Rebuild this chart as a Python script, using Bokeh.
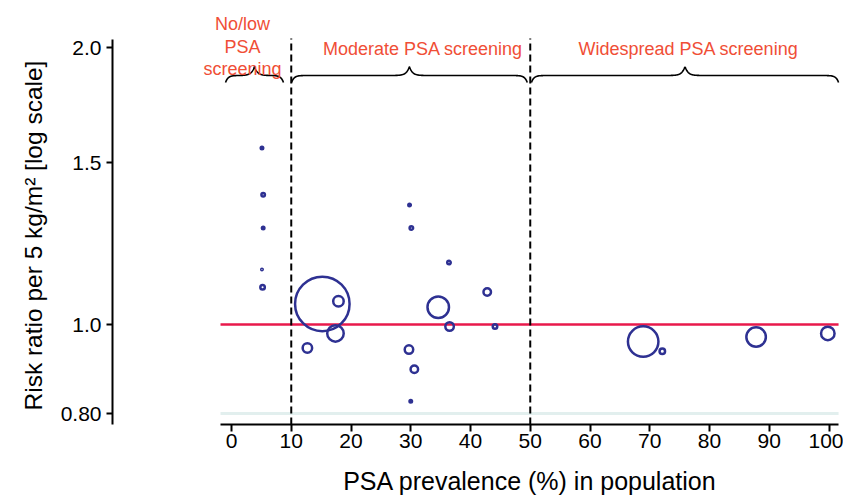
import math
import numpy as np
from bokeh.plotting import figure
from bokeh.models import Range1d, FixedTicker, CustomJSTickFormatter, Label, Title
from bokeh.embed import file_html
from bokeh.resources import INLINE

# ---------------- data ----------------
psa_prevalence = [5.1, 5.3, 5.3, 5.1, 5.2, 15.2, 17.9, 17.4, 12.7,
                  29.8, 30.1, 36.4, 42.8, 34.6, 36.5, 44.1, 29.7, 30.6, 30.0,
                  68.9, 72.1, 87.8, 99.8]
risk_ratio = [1.556, 1.384, 1.274, 1.148, 1.098, 1.053, 1.060, 0.978, 0.943,
              1.349, 1.274, 1.168, 1.085, 1.044, 0.995, 0.995, 0.939, 0.894, 0.825,
              0.958, 0.935, 0.969, 0.978]
study_weight = [2.5, 3.5, 2.5, 1.5, 4.5, 54.5, 10.5, 16.5, 9.5,
                2.5, 3.5, 3.5, 7.5, 21.5, 8.5, 4.5, 8.5, 7.5, 2.5,
                30.5, 5.5, 19.5, 13.5]

x_ticks = [0, 10, 20, 30, 40, 50, 60, 70, 80, 90, 100]
y_ticks = [0.8, 1.0, 1.5, 2.0]
y_tick_labels = ["0.80", "1.0", "1.5", "2.0"]

cutoffs = [10, 50]
region_starts = [-1.0, 10.05, 50.2]
region_ends = [8.7, 49.5, 101.6]
region_label_x = [32.05, 76.5]
region_labels = ["Moderate PSA screening", "Widespread PSA screening"]
low_label_x = 1.85
low_label_lines = ["No/low", "PSA", "screening"]

null_ratio = 1.0
floor_ratio = 0.8

x_title = "PSA prevalence (%) in population"
y_title = "Risk ratio per 5 kg/m\u00b2 [log scale]"

# ---------------- geometry / style ----------------
BLUE = "#2E3192"
RED = "#E8194B"
ORANGE = "#F04E36"
TEAL = "#E2EFEE"
FONT = "Liberation Sans"

W, H = 843, 498
FRAME_LEFT = 112
FRAME_BOTTOM = 424
PX_X = 5.975         # px per x unit
X_ORIGIN_PX = 231.0  # page px of x=0
Y_ONE_PX = 324.0     # page px of RR=1
PX_LN = 399.0        # px per ln-unit


def y_at(page_y):
    return math.exp((Y_ONE_PX - page_y) / PX_LN)


def x_at(page_x):
    return (page_x - X_ORIGIN_PX) / PX_X


X0 = x_at(FRAME_LEFT)
X1 = x_at(W)
Y_BOT = y_at(FRAME_BOTTOM)
Y_TOP = y_at(0)

p = figure(width=W, height=H, x_range=Range1d(X0, X1), y_range=Range1d(Y_BOT, Y_TOP),
           y_axis_type="log", output_backend="svg", toolbar_location=None,
           min_border_left=FRAME_LEFT, min_border_right=0, min_border_top=0,
           min_border_bottom=H - FRAME_BOTTOM)
p.outline_line_color = None
p.xgrid.visible = False
p.ygrid.visible = False
p.background_fill_color = "white"
p.border_fill_color = "white"

# horizontal reference lines
p.line([-1.84, 101.6], [floor_ratio, floor_ratio], line_color=TEAL, line_width=3)
p.line([-1.84, 101.6], [null_ratio, null_ratio], line_color=RED, line_width=2.5)

# dashed cut-off lines
p.segment(x0=cutoffs, y0=[Y_BOT] * len(cutoffs), x1=cutoffs, y1=[y_at(38)] * len(cutoffs),
          line_color="black", line_width=2, line_dash="7 4")


# braces
def brace(x0, x1):
    xs = np.linspace(x0, x1, 600)
    u = np.minimum(xs - x0, x1 - xs) * PX_X
    v = np.abs(xs - (x0 + x1) / 2) * PX_X
    ypx = 75 + 7 * np.exp(-u / 2.5) - 9 * np.exp(-v / 3.0)
    return xs, np.exp((Y_ONE_PX - ypx) / PX_LN)


for a, b in zip(region_starts, region_ends):
    bx, by = brace(a, b)
    p.line(bx, by, line_color="black", line_width=1.6)

# studies
p.scatter(psa_prevalence, risk_ratio, size=study_weight, marker="circle",
          fill_color=None, line_color=BLUE, line_width=2.5)

# region labels
for lx, lt in zip(region_label_x, region_labels):
    p.add_layout(Label(x=lx, y=y_at(48), text=lt, text_align="center", text_baseline="middle",
                       text_font=FONT, text_font_size="18px", text_color=ORANGE))
for ly, lt in zip([23, 46, 68], low_label_lines):
    p.add_layout(Label(x=low_label_x, y=y_at(ly), text=lt, text_align="center", text_baseline="middle",
                       text_font=FONT, text_font_size="18px", text_color=ORANGE))

# y title: starts near the bottom of the axis, like the reference
p.add_layout(Title(text=y_title, align="left", offset=14, vertical_align="middle", standoff=20,
                   text_font=FONT, text_font_size="24.5px", text_font_style="normal",
                   text_color="black"), "left")

# axes
xa = p.xaxis[0]
xa.ticker = FixedTicker(ticks=x_ticks)
xa.bounds = (-1.84, 101.6)
xa.axis_line_width = 2
xa.axis_line_color = "black"
xa.major_tick_line_width = 2
xa.major_tick_line_color = "black"
xa.major_tick_out = 7
xa.major_tick_in = 0
xa.minor_tick_line_color = None
xa.major_label_text_font = FONT
xa.major_label_text_font_size = "21px"
xa.major_label_text_color = "black"
xa.major_label_standoff = 2
# leading no-break spaces shift the centred title right, as in the reference
xa.axis_label = "\u00a0" * 15 + x_title
xa.axis_label_text_font = FONT
xa.axis_label_text_font_size = "25px"
xa.axis_label_text_font_style = "normal"
xa.axis_label_text_color = "black"
xa.axis_label_standoff = 16

ya = p.yaxis[0]
ya.ticker = FixedTicker(ticks=y_ticks)
ya.formatter = CustomJSTickFormatter(args=dict(tick_vals=y_ticks, tick_text=y_tick_labels), code="""
const i = tick_vals.findIndex(t => Math.abs(t - tick) < 1e-9);
return i >= 0 ? tick_text[i] : '';
""")
ya.bounds = (Y_BOT, y_at(39))
ya.axis_line_width = 2
ya.axis_line_color = "black"
ya.major_tick_line_width = 2
ya.major_tick_line_color = "black"
ya.major_tick_out = 6
ya.major_tick_in = 0
ya.minor_tick_line_color = None
ya.major_label_text_font = FONT
ya.major_label_text_font_size = "21px"
ya.major_label_text_color = "black"
ya.major_label_standoff = 5

open("out.html", "w").write(file_html(p, INLINE))
